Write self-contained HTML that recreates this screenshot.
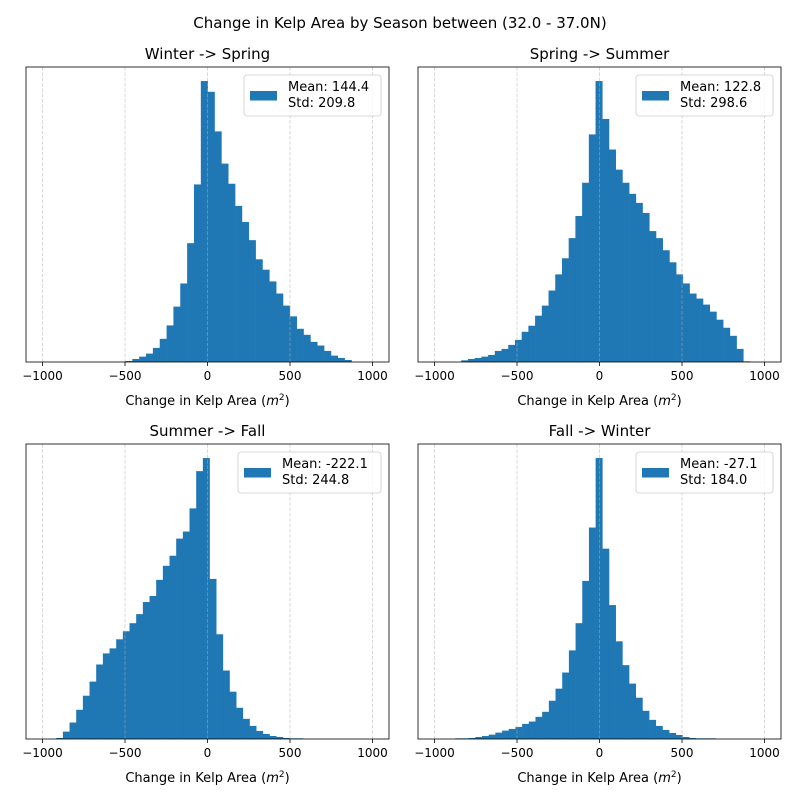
<!DOCTYPE html>
<html><head><meta charset="utf-8"><style>
body{margin:0;background:#fff;}
svg{display:block;font-family:"DejaVu Sans","Liberation Sans",sans-serif;}
</style></head><body>
<svg id="fig" width="800" height="800" viewBox="0 0 800 800">
<rect width="800" height="800" fill="#fff"/>
<text x="400" y="28" font-size="15" text-anchor="middle">Change in Kelp Area by Season between (32.0 - 37.0N)</text>
</svg>
<script>
const ticks = [-1000, -500, 0, 500, 1000];
const titles = ["Winter -> Spring", "Spring -> Summer", "Summer -> Fall", "Fall -> Winter"];
const means = ["144.4", "122.8", "-222.1", "-27.1"];
const stds = ["209.8", "298.6", "244.8", "184.0"];
const binStarts = [-497, -838, -917, -874];
const binWidths = [41.5, 40.7, 40.4, 40.5];
const countsWS = [3,9,16,25,42,69,109,165,234,354,529,837,805,687,591,531,465,417,363,306,275,240,204,168,136,99,81,60,49,33,19,12,6];
const countsSS = [5,9,12,16,21,33,39,51,66,90,108,138,168,213,261,309,369,435,534,678,837,724,633,573,534,501,474,444,390,369,333,297,261,234,204,189,171,150,126,102,78,39,2];
const countsSF = [3,22,49,87,129,171,222,255,270,297,321,345,372,408,426,474,516,546,597,618,687,798,837,477,312,204,141,93,60,39,24,15,9,6,3,2,2];
const countsFW = [2,2,3,6,9,13,19,25,30,36,45,52,66,81,114,150,198,264,345,471,630,837,567,399,291,220,165,123,84,57,39,27,18,12,6,3,2,2,2];
const allCounts = [countsWS, countsSS, countsSF, countsFW];

const NS = "http://www.w3.org/2000/svg";
const svg = document.getElementById("fig");
function mk(tag, attrs, parent) {
  const e = document.createElementNS(NS, tag);
  for (const k in attrs) e.setAttribute(k, attrs[k]);
  (parent || svg).appendChild(e);
  return e;
}
const boxes = [[26,67],[418,67],[26,444],[418,444]];
const W = 363, H = 295, XMIN = -1100, XMAX = 1100;

boxes.forEach((b, i) => {
  const [x0, y0] = b;
  const g = mk("g", {});
  
  
  const xs = v => x0 + (v - XMIN) / (XMAX - XMIN) * W;
  const counts = allCounts[i];
  const ymax = Math.max(...counts) * 1.05;
  const ys = v => y0 + H - v / ymax * H;
  counts.forEach((c, j) => {
    const a = binStarts[i] + j * binWidths[i];
    const r = mk("rect", {x: xs(a), y: ys(c), width: xs(a + binWidths[i]) - xs(a) + 0.3, height: y0 + H - ys(c), fill: "#1f77b4"}, g);
    
    
  });
  ticks.forEach(t => {
    const gl = mk("line", {x1: xs(t), x2: xs(t), y1: y0, y2: y0 + H, stroke: "#b0b0b0", "stroke-opacity": 0.6, "stroke-dasharray": "3.7,1.6", "stroke-width": 0.8}, g);
    
    
    mk("line", {x1: xs(t), x2: xs(t), y1: y0 + H, y2: y0 + H + 4, stroke: "#000", "stroke-width": 0.8}, g);
    const tl = mk("text", {x: xs(t), y: y0 + H + 18, "font-size": 12, "text-anchor": "middle"}, g);
    tl.textContent = (t < 0 ? "\u2212" + (-t) : t);
    
    
  });
  const fr = mk("rect", {x: x0, y: y0, width: W, height: H, fill: "none", stroke: "#000", "stroke-width": 0.8}, g);
  
  
  const tt = mk("text", {x: x0 + W/2, y: y0 - 8, "font-size": 15, "text-anchor": "middle"}, g);
  tt.textContent = titles[i];
  
  
  const xl = mk("text", {x: x0 + W/2, y: y0 + H + 43, "font-size": 13, "text-anchor": "middle"}, g);
  xl.innerHTML = 'Change in Kelp Area (<tspan font-style="italic">m</tspan><tspan dy="-5" font-size="9">2</tspan><tspan dy="5">)</tspan>';
  
  
  // legend
  const lw = i === 2 ? 143 : 137;
  const lx = x0 + W - 8 - lw, ly = y0 + 8;
  const lg = mk("g", {}, g);
  
  
  mk("rect", {x: lx, y: ly, width: lw, height: 41, rx: 3, fill: "#fff", "fill-opacity": 0.8, stroke: "#ccc", "stroke-width": 0.8}, lg);
  mk("rect", {x: lx + 6, y: ly + 16, width: 27, height: 9.5, fill: "#1f77b4"}, lg);
  const t1 = mk("text", {x: lx + 44, y: ly + 16, "font-size": 13}, lg);
  t1.textContent = "Mean: " + means[i];
  const t2 = mk("text", {x: lx + 44, y: ly + 32, "font-size": 13}, lg);
  t2.textContent = "Std: " + stds[i];
});
</script>
</body></html>
